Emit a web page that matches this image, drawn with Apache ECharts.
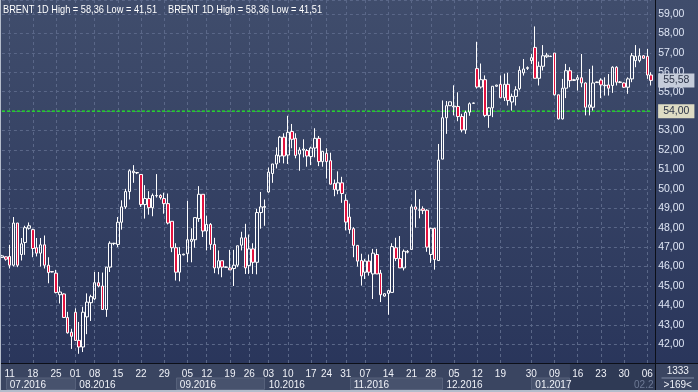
<!DOCTYPE html>
<html><head><meta charset="utf-8">
<script src="https://cdn.jsdelivr.net/npm/echarts@6/dist/echarts.min.js"></script>
<style>html,body{margin:0;padding:0;background:#34405e;}#c{width:698px;height:392px;}</style>
</head><body><div id="c"></div>
<script>
// ---- data ----
const opens  = [46.47,46.5,46.52,46.07,48.24,46.62,47.24,47.97,47.9,46.97,46.69,47.12,46.07,45.74,45.66,44.55,44.59,43.38,42.62,43.65,42.2,41.86,43.41,44.14,44.34,45.17,45.0,43.79,45.97,47.18,47.14,48.28,49.07,49.86,
50.83,50.82,50.74,49.19,49.5,49.03,49.64,49.66,49.5,49.24,48.33,46.97,45.71,46.6,46.66,47.3,47.38,48.47,49.72,47.83,48.17,47.14,45.93,46.3,45.96,45.93,45.9,46.07,47.1,47.48,46.05,46.91,46.22,48.78,
49.05,49.84,50.79,51.28,51.69,52.66,51.74,52.95,52.6,51.79,52.0,51.97,51.66,52.1,52.6,51.4,51.83,51.45,50.28,49.93,50.31,49.41,48.55,47.95,47.09,46.31,45.71,46.28,45.62,46.62,45.66,44.48,44.62,44.67,
46.97,46.41,45.93,46.74,46.88,49.07,48.9,48.97,48.9,46.62,47.97,46.31,51.53,53.66,54.28,54.22,54.24,53.72,53.03,53.95,54.4,56.19,55.24,55.62,53.78,54.17,55.28,55.38,54.69,55.38,54.47,54.76,55.16,
55.97,56.2,56.6,57.28,55.69,56.31,56.8,56.81,56.99,54.84,53.6,55.18,56.08,55.58,55.62,55.72,55.45,54.2,54.2,55.47,55.6,55.31,55.35,55.32,56.26,55.48,55.45,55.23,55.66,56.6,56.6,56.85,56.82,55.86];
const closes = [46.55,46.38,46.07,48.24,46.07,47.17,48.0,48.1,46.93,46.69,47.12,46.07,45.69,45.72,44.66,44.69,43.38,42.59,42.41,42.2,41.86,43.65,44.17,44.45,45.17,45.0,43.79,45.97,47.2,47.2,48.28,49.07,49.86,50.93,
50.91,50.84,49.19,49.5,49.03,49.66,49.66,49.55,49.24,48.24,46.97,45.71,46.62,46.64,47.38,47.4,48.52,49.72,47.83,48.17,47.14,45.93,46.3,45.97,45.98,45.83,46.07,47.07,47.48,45.93,46.91,46.22,48.78,49.07,
49.09,50.86,51.28,51.74,52.66,51.69,52.91,52.55,51.72,52.0,52.05,51.69,52.1,52.6,51.4,51.93,51.4,50.24,49.97,50.31,49.76,48.29,47.9,47.09,46.28,45.52,46.28,45.71,46.69,45.62,44.55,44.6,44.76,47.03,
46.41,45.93,46.79,46.78,49.07,48.95,48.92,48.88,47.0,47.97,46.36,51.48,53.66,54.28,54.48,54.26,53.72,53.03,53.93,54.38,54.42,55.24,55.62,53.78,54.17,55.28,55.34,54.69,55.38,54.55,54.76,55.1,56.1,
56.17,56.24,56.75,55.69,56.31,56.85,56.88,56.83,54.84,53.6,55.18,56.08,55.57,55.62,55.72,55.45,54.2,54.32,55.45,55.5,55.35,55.33,55.18,56.26,55.49,55.5,55.23,55.66,56.85,56.82,56.85,56.72,55.86,55.58];
const lows   = [46.45,46.3,45.9,46.0,45.97,46.31,46.6,47.9,46.48,46.52,46.0,45.9,45.14,45.7,44.62,44.1,43.35,42.55,41.76,42.17,41.51,41.6,42.52,43.2,44.28,44.93,43.79,43.41,45.72,47.1,47.0,47.9,48.97,49.45,
50.31,50.76,49.07,48.47,48.67,48.59,49.55,49.45,48.72,48.17,46.74,45.28,45.24,46.58,46.22,46.22,46.97,48.3,47.52,46.83,46.86,45.66,45.6,45.45,45.94,45.83,45.0,45.97,46.83,45.62,45.62,45.62,45.6,47.95,
48.1,49.8,50.31,51.05,51.34,51.31,51.28,52.09,51.57,50.93,51.62,51.14,51.22,51.62,51.17,51.14,50.53,50.24,49.62,49.72,49.28,47.86,47.69,46.48,46.0,45.02,45.36,45.53,44.33,45.62,44.17,44.45,43.52,44.67,
46.28,45.93,45.8,46.68,46.88,48.0,48.48,48.7,46.76,46.19,45.84,46.31,51.53,52.83,54.28,53.78,53.48,52.91,52.83,53.76,54.38,55.16,55.16,53.69,53.14,53.69,55.26,54.69,54.52,54.29,54.03,54.29,55.07,
55.83,56.12,56.43,55.69,55.32,56.09,56.74,56.79,54.8,53.57,53.57,54.67,55.23,55.55,55.06,55.23,53.78,53.78,54.03,55.45,54.67,54.8,54.8,54.94,55.32,55.44,55.2,54.89,55.49,56.26,56.51,56.7,55.66,55.32];
const highs  = [46.6,46.52,47.12,48.55,48.24,47.47,48.1,48.27,47.95,47.47,47.47,47.6,46.48,45.76,45.83,44.97,44.62,43.67,42.8,43.85,43.15,43.93,44.62,44.55,45.72,45.72,45.69,45.97,47.3,47.22,48.55,49.41,50.0,51.0,
51.22,50.86,50.74,50.19,49.88,49.76,50.76,49.72,49.8,49.76,48.33,47.2,47.0,46.66,49.38,47.97,48.52,50.14,49.72,48.62,48.24,47.48,46.83,46.3,46.0,46.86,46.86,47.07,47.79,48.2,47.65,47.2,48.97,49.84,
49.45,51.1,51.28,52.14,52.72,52.86,53.76,53.34,52.86,52.14,52.55,52.05,52.17,53.12,52.72,51.93,52.09,51.86,50.48,50.9,50.62,49.72,49.24,48.03,47.09,46.66,46.4,46.62,46.91,46.91,45.83,44.62,44.8,47.2,
47.48,47.57,46.88,46.85,49.2,49.93,49.47,49.1,48.95,48.0,48.0,52.31,54.55,54.52,54.48,55.33,54.97,53.86,54.03,54.45,54.44,57.57,56.45,55.84,54.21,55.28,55.36,55.84,55.93,55.97,54.9,55.28,56.31,
56.68,56.3,56.94,58.36,56.55,57.4,57.0,56.85,56.99,54.84,55.66,56.43,56.26,55.66,55.86,56.94,55.48,56.17,56.34,55.52,55.69,55.74,55.91,56.31,56.31,55.55,55.48,55.74,56.99,57.4,57.23,56.88,57.2,56.0];

const dayLabels  = ['11','18','25','01','08','15','22','29','05','12','19','26','03','10','17','24','31','07','14','21','28','05','12','19','30','09','16','23','30','06'];
const dayTickIdx = [2,8,14,19,24,30,36,42,48,53,59,64,69,74,80,84,89,94,100,106,111,117,123,129,137,143,149,155,161,167];
const monthLabels   = ['07.2016','08.2016','09.2016','10.2016','11.2016','12.2016','01.2017'];
const monthStartIdx = [1.0, 18.9, 45.0, 68.1, 90.1, 113.9, 136.9];
const futureStartIdx = 147.3;     // dimmed part of the time axis
const refLevel = 54.00;
const lastPrice = 55.58;
const yMin = 41, yMax = 59.72, yStep = 1;
const titleText = 'BRENT 1D High = 58,36 Low = 41,51';
const barsTotal = '1333';

// ---- build ----
const categories = opens.map((_, i) => String(i));
const candles = opens.map((o, i) => [o, closes[i], lows[i], highs[i]]);
const labelAt = {};
dayTickIdx.forEach((k, j) => labelAt[k] = dayLabels[j]);
const fmt = v => v.toFixed(2).replace('.', ',');
const FONT = 'Liberation Sans, Arial, sans-serif';
const lastIdx = opens.length - 1;

const chart = echarts.init(document.getElementById('c'));
const option = {
  animation: false,
  backgroundColor: new echarts.graphic.LinearGradient(0, 0, 0, 1, [
    {offset: 0, color: '#404d6c'}, {offset: 1, color: '#28345a'}]),
  grid: {left: 1.93, width: 649.2, top: 0, height: 363.7, containLabel: false},
  xAxis: {
    type: 'category', data: categories, boundaryGap: false,
    axisLine: {show: false}, axisTick: {show: false},
    axisLabel: {
      interval: (i) => labelAt[i] !== undefined,
      formatter: (v, i) => labelAt[i] || '',
      color: (v, i) => (i >= futureStartIdx ? '#7c88a4' : '#f0f2f8'),
      fontSize: 10, fontFamily: FONT, margin: 5.5, hideOverlap: false
    },
    splitLine: {show: true, interval: (i) => labelAt[i] !== undefined,
      lineStyle: {color: '#5a6788', type: [3, 3], width: 1}}
  },
  yAxis: {
    type: 'value', position: 'right', min: yMin, max: yMax, interval: yStep, offset: 4,
    axisLine: {show: false}, axisTick: {show: false},
    axisLabel: {
      showMaxLabel: false,
      formatter: v => (v <= yMin || v >= 59.5 ? (v === 59 ? fmt(v) : '') : fmt(v)),
      color: '#dfe6f5', fontSize: 10.5, fontFamily: FONT, margin: 3, align: 'left'
    },
    splitLine: {show: true, lineStyle: {color: '#5a6788', type: [3, 3], width: 1}}
  },
  series: [
    {
      name: 'ref', type: 'line', data: [[0, refLevel], [lastIdx, refLevel]], symbol: 'none', silent: true, z: 1,
      lineStyle: {color: '#1cf01c', type: [3, 2], width: 1.2}
    },
    {
      type: 'candlestick', data: candles, barWidth: 3, clip: false, z: 3,
      itemStyle: {color: 'rgba(0,0,0,0)', color0: '#e3123f', borderColor: '#ffffff', borderColor0: '#ffffff', borderWidth: 1},
      markLine: {
        silent: true, symbol: 'none', animation: false,
        lineStyle: {color: 'rgba(0,0,0,0)', width: 0},
        label: {position: 'end', color: '#2c3448', fontSize: 10.5, fontFamily: FONT, padding: [2, 5, 1, 5], distance: 7},
        data: [
          {yAxis: refLevel, label: {formatter: fmt(refLevel), backgroundColor: '#dedcc4'}},
          {yAxis: lastPrice, label: {formatter: fmt(lastPrice), backgroundColor: '#c5ccda'}}
        ]
      }
    }
  ]
};
chart.setOption(option);

// ---- axis panel decorations, placed from the chart's own scales ----
const px = v => chart.convertToPixel({xAxisIndex: 0}, v);
const yBase = Math.round(chart.convertToPixel({yAxisIndex: 0}, yMin)) - 0.5;   // bottom axis line
const xRight = 655.5;
const W = 698, H = 392;
const row2 = yBase + 14, rowEnd = H - 2;
const g = [];
// title texts (narrow face emulated by horizontal scaling)
[3, 168].forEach(x => g.push({type: 'text', z: 8, x: x, y: 4, scaleX: 0.84,
  style: {text: titleText, x: 0, y: 0, textVerticalAlign: 'top', fill: '#ffffff', font: '11px ' + FONT}}));
g.push({type: 'rect', z: -10, shape: {x: 0, y: yBase, width: W, height: H - yBase}, style: {fill: '#3a4561'}});
monthStartIdx.forEach((k, j) => {
  const x0 = px(k), x1 = j + 1 < monthStartIdx.length ? px(monthStartIdx[j + 1]) : px(futureStartIdx);
  if (j % 2 === 0) {
    g.push({type: 'rect', z: -9, shape: {x: Math.round(x0) + 0.5, y: row2 + 0.5, width: Math.round(x1 - x0) - 1, height: rowEnd - row2 - 1},
      style: {fill: '#47526d', stroke: '#56617b', lineWidth: 1}});
  }
  g.push({type: 'text', z: 5, style: {text: monthLabels[j], x: x0 + 4, y: (row2 + rowEnd) / 2 + 1, textVerticalAlign: 'middle',
    fill: '#f0f2f8', font: '10px ' + FONT}});
});
// dimmed future section
g.push({type: 'rect', z: -8, shape: {x: px(futureStartIdx), y: yBase + 0.5, width: xRight - px(futureStartIdx), height: rowEnd - yBase - 0.5},
  style: {fill: '#2f3a55'}});
g.push({type: 'text', z: 5, style: {text: '02.2', x: xRight - 2, y: (row2 + rowEnd) / 2 + 1, textAlign: 'right', textVerticalAlign: 'middle',
  fill: '#6d7995', font: '10px ' + FONT}});
// frame lines
g.push({type: 'line', z: 6, shape: {x1: 0, y1: yBase, x2: W, y2: yBase}, style: {stroke: '#0c0f18', lineWidth: 1}});
g.push({type: 'line', z: 6, shape: {x1: xRight, y1: 0, x2: xRight, y2: rowEnd}, style: {stroke: '#0c0f18', lineWidth: 1}});
g.push({type: 'rect', z: 7, shape: {x: 0, y: rowEnd, width: W, height: 2}, style: {fill: '#b4bccb'}});
g.push({type: 'rect', z: 7, shape: {x: 0, y: 0, width: 1, height: H}, style: {fill: '#b4bccb'}});
// bottom-right counters
g.push({type: 'text', z: 5, style: {text: barsTotal, x: (xRight + W) / 2 + 1, y: yBase + 8, textAlign: 'center', textVerticalAlign: 'middle', fill: '#f0f2f8', font: '10px ' + FONT}});
g.push({type: 'line', z: 5, shape: {x1: xRight + 6, y1: row2 + 0.5, x2: W - 4, y2: row2 + 0.5}, style: {stroke: '#7f8aa3', lineWidth: 1}});
g.push({type: 'text', z: 5, style: {text: '>' + opens.length + '<', x: (xRight + W) / 2 + 1, y: (row2 + rowEnd) / 2 + 1, textAlign: 'center', textVerticalAlign: 'middle', fill: '#f0f2f8', font: '10px ' + FONT}});
chart.setOption({graphic: {elements: g}});
</script>
</body></html>
